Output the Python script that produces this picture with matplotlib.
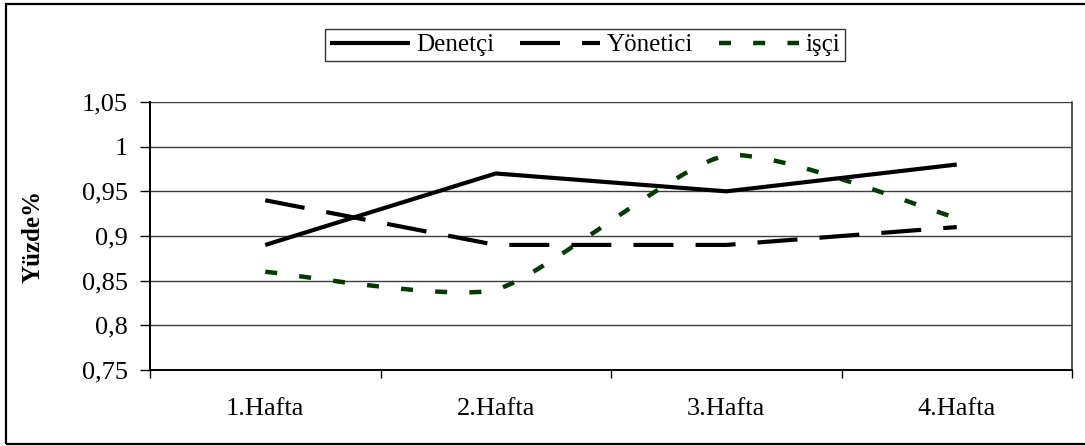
#!/usr/bin/env python3
import matplotlib
matplotlib.use("Agg")
import matplotlib.pyplot as plt
import numpy as np
from matplotlib.path import Path
from matplotlib.patches import PathPatch, Rectangle
from matplotlib.lines import Line2D
from matplotlib.ticker import FixedLocator, FuncFormatter

png_outfile = "out.png"

weeks = ["1.Hafta", "2.Hafta", "3.Hafta", "4.Hafta"]
denetci = [0.89, 0.97, 0.95, 0.98]
yonetici = [0.94, 0.89, 0.89, 0.91]
isci = [0.86, 0.84, 0.99, 0.92]
yticks = [0.75, 0.8, 0.85, 0.9, 0.95, 1.0, 1.05]

plt.rcParams['font.family'] = ['Liberation Serif', 'DejaVu Serif']


def smooth_path(xs, ys, tension=0.1):
    # cubic bezier through every point, control points from neighbours (excel-like smoothing)
    pts = np.column_stack([xs, ys]).astype(float)
    n = len(pts)
    verts = [pts[0]]
    codes = [Path.MOVETO]
    for i in range(n - 1):
        p0 = pts[i - 1] if i > 0 else pts[i]
        p1 = pts[i]
        p2 = pts[i + 1]
        p3 = pts[i + 2] if i + 2 < n else pts[i + 1]
        c1 = p1 + (p2 - p0) * tension
        c2 = p2 - (p3 - p1) * tension
        verts += [c1, c2, p2]
        codes += [Path.CURVE4] * 3
    return Path(verts, codes)


fig = plt.figure(figsize=(10.85, 4.46), dpi=100)
ax = fig.add_axes([150 / 1085, 1 - 370 / 446, 922 / 1085, 268 / 446])

x = np.arange(len(weeks))

solid_style = dict(color='black', linewidth=3.0, solid_capstyle='butt')
dash_style = dict(color='black', linewidth=3.0, dashes=(9.6, 5.3), dash_capstyle='butt')
dot_color = '#003a00'
dot_dashes = (2.7, 5.0)

ax.plot(x, denetci, label='Denetçi', **solid_style)
ax.plot(x, yonetici, label='Yönetici', **dash_style)

isci_patch = PathPatch(smooth_path(x, isci), fill=False, edgecolor=dot_color,
                       linewidth=3.2, linestyle=(0, dot_dashes), capstyle='butt')
ax.add_patch(isci_patch)
isci_handle = Line2D([], [], color=dot_color, linewidth=3.2, dashes=dot_dashes,
                     dash_capstyle='butt', label='işçi')

ax.set_xlim(-0.5, len(weeks) - 0.5)
ax.set_ylim(0.75, 1.05)

ax.yaxis.set_major_locator(FixedLocator(yticks))
ax.yaxis.set_major_formatter(FuncFormatter(lambda v, p: ('%g' % round(v, 2)).replace('.', ',')))
ax.tick_params(axis='y', direction='out', length=7, width=1, pad=9, labelsize=19)

ax.set_xticks(x)
ax.set_xticklabels(weeks)
ax.set_xticks(np.arange(len(weeks) + 1) - 0.5, minor=True)
ax.tick_params(axis='x', which='major', length=0, pad=20, labelsize=19)
ax.tick_params(axis='x', which='minor', direction='out', length=6, width=1)

ax.grid(axis='y', color='#3c3c3c', linewidth=1.0)
ax.set_axisbelow(True)
for side in ['left', 'bottom']:
    ax.spines[side].set_linewidth(1.4)
    ax.spines[side].set_color('black')
ax.spines['right'].set_color('#3c3c3c')
ax.spines['right'].set_linewidth(1.2)
ax.spines['top'].set_visible(False)

ax.set_ylabel('Yüzde%', fontsize=18, fontweight='bold')
ax.yaxis.set_label_coords(-0.114, 0.5)

handles, labels = ax.get_legend_handles_labels()
handles.append(isci_handle)
labels.append('işçi')
leg = fig.legend(handles, labels, loc='center', bbox_to_anchor=(585 / 1085, 1 - 45 / 446),
                 ncol=3, fontsize=18, handlelength=3.2, handletextpad=0.25,
                 columnspacing=1.05, borderpad=0.2, frameon=True, fancybox=False,
                 edgecolor='black')
leg.get_frame().set_linewidth(1.0)

# outer chart border
fig.add_artist(Rectangle((6 / 1085, 1 - 444 / 446), 1.0, 440 / 446, transform=fig.transFigure,
                         fill=False, edgecolor='black', linewidth=1.6, clip_on=False))

plt.savefig(png_outfile, dpi=100)
